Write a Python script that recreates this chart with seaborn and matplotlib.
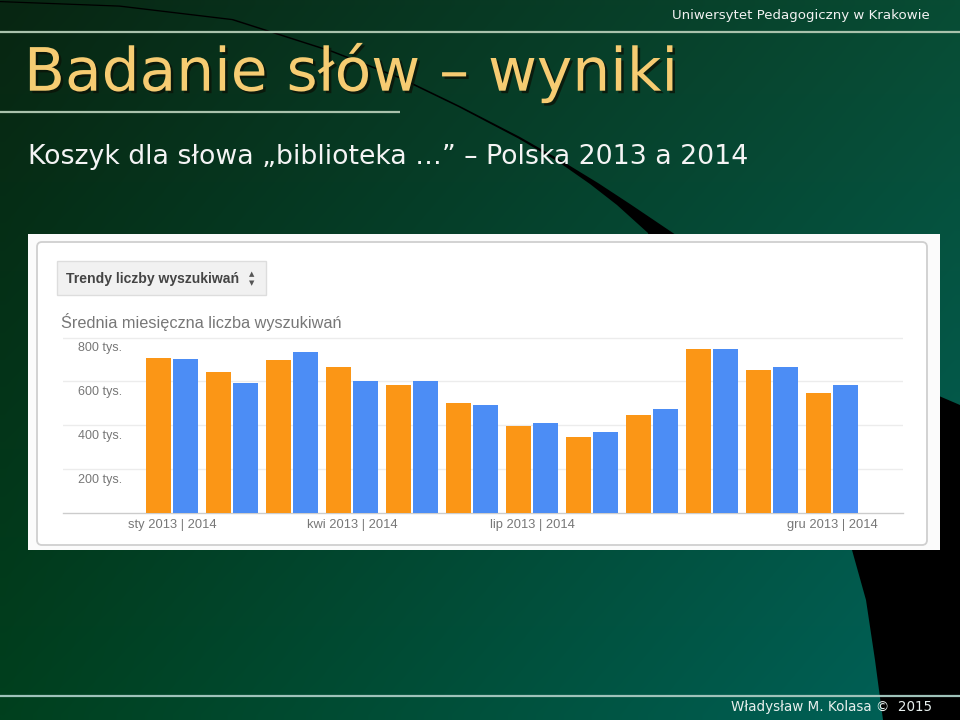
import numpy as np
import pandas as pd
import matplotlib
matplotlib.use("Agg")
import matplotlib.pyplot as plt
import matplotlib.patheffects as pe
import matplotlib.transforms as mtransforms
import seaborn as sns
from matplotlib.patches import Polygon, Rectangle, FancyBboxPatch
from matplotlib import font_manager as fm

# ---------------- data (thousands of searches) ----------------
months = ['sty', 'lut', 'mar', 'kwi', 'maj', 'cze', 'lip', 'sie', 'wrz', 'paź', 'lis', 'gru']
vals_2013 = [709, 641, 697, 664, 585, 501, 397, 345, 447, 748, 653, 547]
vals_2014 = [703, 595, 736, 601, 601, 495, 412, 368, 474, 748, 668, 586]
years = ['2013', '2014']
tick_months = ['sty', 'kwi', 'lip', 'gru']
tick_labels = ['sty 2013 | 2014', 'kwi 2013 | 2014', 'lip 2013 | 2014', 'gru 2013 | 2014']
ytick_vals = [200, 400, 600, 800]
ytick_labels = ['200 tys.', '400 tys.', '600 tys.', '800 tys.']

slide_title = 'Badanie słów – wyniki'
slide_sub = 'Koszyk dla słowa „biblioteka …” – Polska 2013 a 2014'
header = 'Uniwersytet Pedagogiczny w Krakowie'
footer = 'Władysław M. Kolasa ©  2015'
button_text = 'Trendy liczby wyszukiwań'
chart_sub = 'Średnia miesięczna liczba wyszukiwań'

df = pd.DataFrame({
    'month': months * 2,
    'year': [years[0]] * len(months) + [years[1]] * len(months),
    'value': vals_2013 + vals_2014,
})

names = {f.name for f in fm.fontManager.ttflist}
chart_font = 'Liberation Sans' if 'Liberation Sans' in names else 'DejaVu Sans'
slide_font = 'DejaVu Sans'

ORANGE = '#FB9616'
BLUE = '#4C8DF5'

W, H = 960, 720
fig = plt.figure(figsize=(9.6, 7.2), dpi=100)

# ---------------- slide background (pixel coordinates) ----------------
bg = fig.add_axes([0, 0, 1, 1], zorder=0)
bg.set_xlim(0, W)
bg.set_ylim(H, 0)
bg.axis('off')

tl = np.array([8, 38, 18]); tr = np.array([8, 76, 52])
bl = np.array([0, 64, 30]); br = np.array([0, 98, 90])
gx = np.linspace(0, 1, 96)[None, :, None]
gy = np.linspace(0, 1, 72)[:, None, None]
grad = (tl * (1 - gx) * (1 - gy) + tr * gx * (1 - gy) + bl * (1 - gx) * gy + br * gx * gy) / 255.0
bg.imshow(grad, extent=(0, W, H, 0), interpolation='bilinear', aspect='auto', zorder=0)

# black swoosh (top): thin arc widening into a wedge behind the chart
swoosh = [(0, 1), (120, 5.5), (233, 19), (333, 51), (400, 77), (460, 106), (520, 137),
          (562, 161), (598, 183), (630, 204), (673, 233), (690, 245),
          (650, 245), (648, 233), (617, 205), (590, 184), (559, 162.3), (518, 138.3),
          (459, 107.3), (399, 78.3), (332, 52.2), (232, 20.2), (119, 6.7), (0, 2.2)]
bg.add_patch(Polygon(swoosh, closed=True, facecolor='black', edgecolor='none', zorder=1))
# black shape (bottom right)
corner = [(925, 390), (960, 405), (960, 720), (883, 720), (875, 660), (866, 600),
          (852, 550), (830, 480), (860, 420)]
bg.add_patch(Polygon(corner, closed=True, facecolor='black', edgecolor='none', zorder=1))

# separator lines
bg.plot([0, W], [31.5, 31.5], color='#a9c2ac', lw=1.6, zorder=2, solid_capstyle='butt')
bg.plot([0, 400], [111.5, 111.5], color='#a9c2ac', lw=1.6, zorder=2, solid_capstyle='butt')
bg.plot([0, W], [696, 696], color='#9fc2ba', lw=1.6, zorder=2, solid_capstyle='butt')

# chart frame
bg.add_patch(Rectangle((28, 234), 912, 316, facecolor='#fbfbfb', edgecolor='none', zorder=3))
bg.add_patch(FancyBboxPatch((37, 242), 890, 303, boxstyle='round,pad=0,rounding_size=5',
                            facecolor='white', edgecolor='#cfcfcf', lw=1.3, zorder=4))
# selector button
bg.add_patch(Rectangle((57, 261), 209, 34, facecolor='#f1f1f1', edgecolor='#dddddd',
                       lw=1.0, zorder=5))

renderer = fig.canvas.get_renderer()


def fit(t, target_w):
    bb = t.get_window_extent(renderer=renderer)
    t.set_fontsize(t.get_fontsize() * target_w / bb.width)


t_btn = bg.text(66, 278.5, button_text, family=chart_font, weight='bold', color='#444444',
                fontsize=10, ha='left', va='center', zorder=6)
fit(t_btn, 173)
bg.text(252, 277, '▲', family='DejaVu Sans', fontsize=5, color='#555555',
        ha='center', va='bottom', zorder=6)
bg.text(252, 280, '▼', family='DejaVu Sans', fontsize=5, color='#555555',
        ha='center', va='top', zorder=6)

t_cs = bg.text(61, 322, chart_sub, family=chart_font, color='#777777', fontsize=11.5,
               ha='left', va='center', zorder=6)
fit(t_cs, 279)

# slide texts
t_hdr = bg.text(930, 15, header, family=slide_font, color='#f2f2f2', fontsize=9.5,
                ha='right', va='center', zorder=6)
fit(t_hdr, 259)

t_title = bg.text(24, 90.7, slide_title, family=slide_font, color='#F6CC72', fontsize=44,
                  ha='left', va='baseline', zorder=7)
fit(t_title, 654)
t_title.set_path_effects([pe.withSimplePatchShadow(offset=(1.8, -1.8), shadow_rgbFace='#0c1408',
                                                   alpha=0.8)])

t_sub = bg.text(28, 164.5, slide_sub, family=slide_font, color='#f4f4f4', fontsize=17.4,
                ha='left', va='baseline', zorder=6)
fit(t_sub, 720)

t_ft = bg.text(932, 707, footer, family=slide_font, color='#e8f0ee', fontsize=10,
               ha='right', va='center', zorder=6)
fit(t_ft, 202)

# ---------------- bar chart ----------------
ax_left, ax_right, ax_top, ax_bot = 63, 903, 337.3, 513.3
ax = fig.add_axes([ax_left / W, 1 - ax_bot / H, (ax_right - ax_left) / W, (ax_bot - ax_top) / H],
                  zorder=10)
ax.set_facecolor('none')

sns.barplot(data=df, x='month', y='value', hue='year', hue_order=years, order=months,
            palette=[ORANGE, BLUE], saturation=1, width=0.9, gap=0.07, linewidth=0,
            legend=False, ax=ax, zorder=3)

ax.set_xlim(-1.82, 12.18)
ax.set_ylim(0, 801)
ax.set_xlabel('')
ax.set_ylabel('')

ax.set_xticks([months.index(m) for m in tick_months])
ax.set_xticklabels(tick_labels, family=chart_font, fontsize=9.3, color='#777777')
ax.tick_params(axis='x', length=0, pad=4)

ax.set_yticks(ytick_vals)
ax.set_yticklabels(ytick_labels, family=chart_font, fontsize=9, color='#777777')
ax.tick_params(axis='y', length=0, pad=-10.8)
shift = mtransforms.ScaledTranslation(0, -3.5 / 72, fig.dpi_scale_trans)
for lab in ax.get_yticklabels():
    lab.set_ha('left')
    lab.set_va('top')
    lab.set_transform(lab.get_transform() + shift)

ax.yaxis.grid(True, color='#ececec', lw=1.0, zorder=0)
ax.set_axisbelow(True)
for s in ['top', 'left', 'right']:
    ax.spines[s].set_visible(False)
ax.spines['bottom'].set_color('#cccccc')
ax.spines['bottom'].set_linewidth(1.0)

fig.savefig('out.png', dpi=100)
